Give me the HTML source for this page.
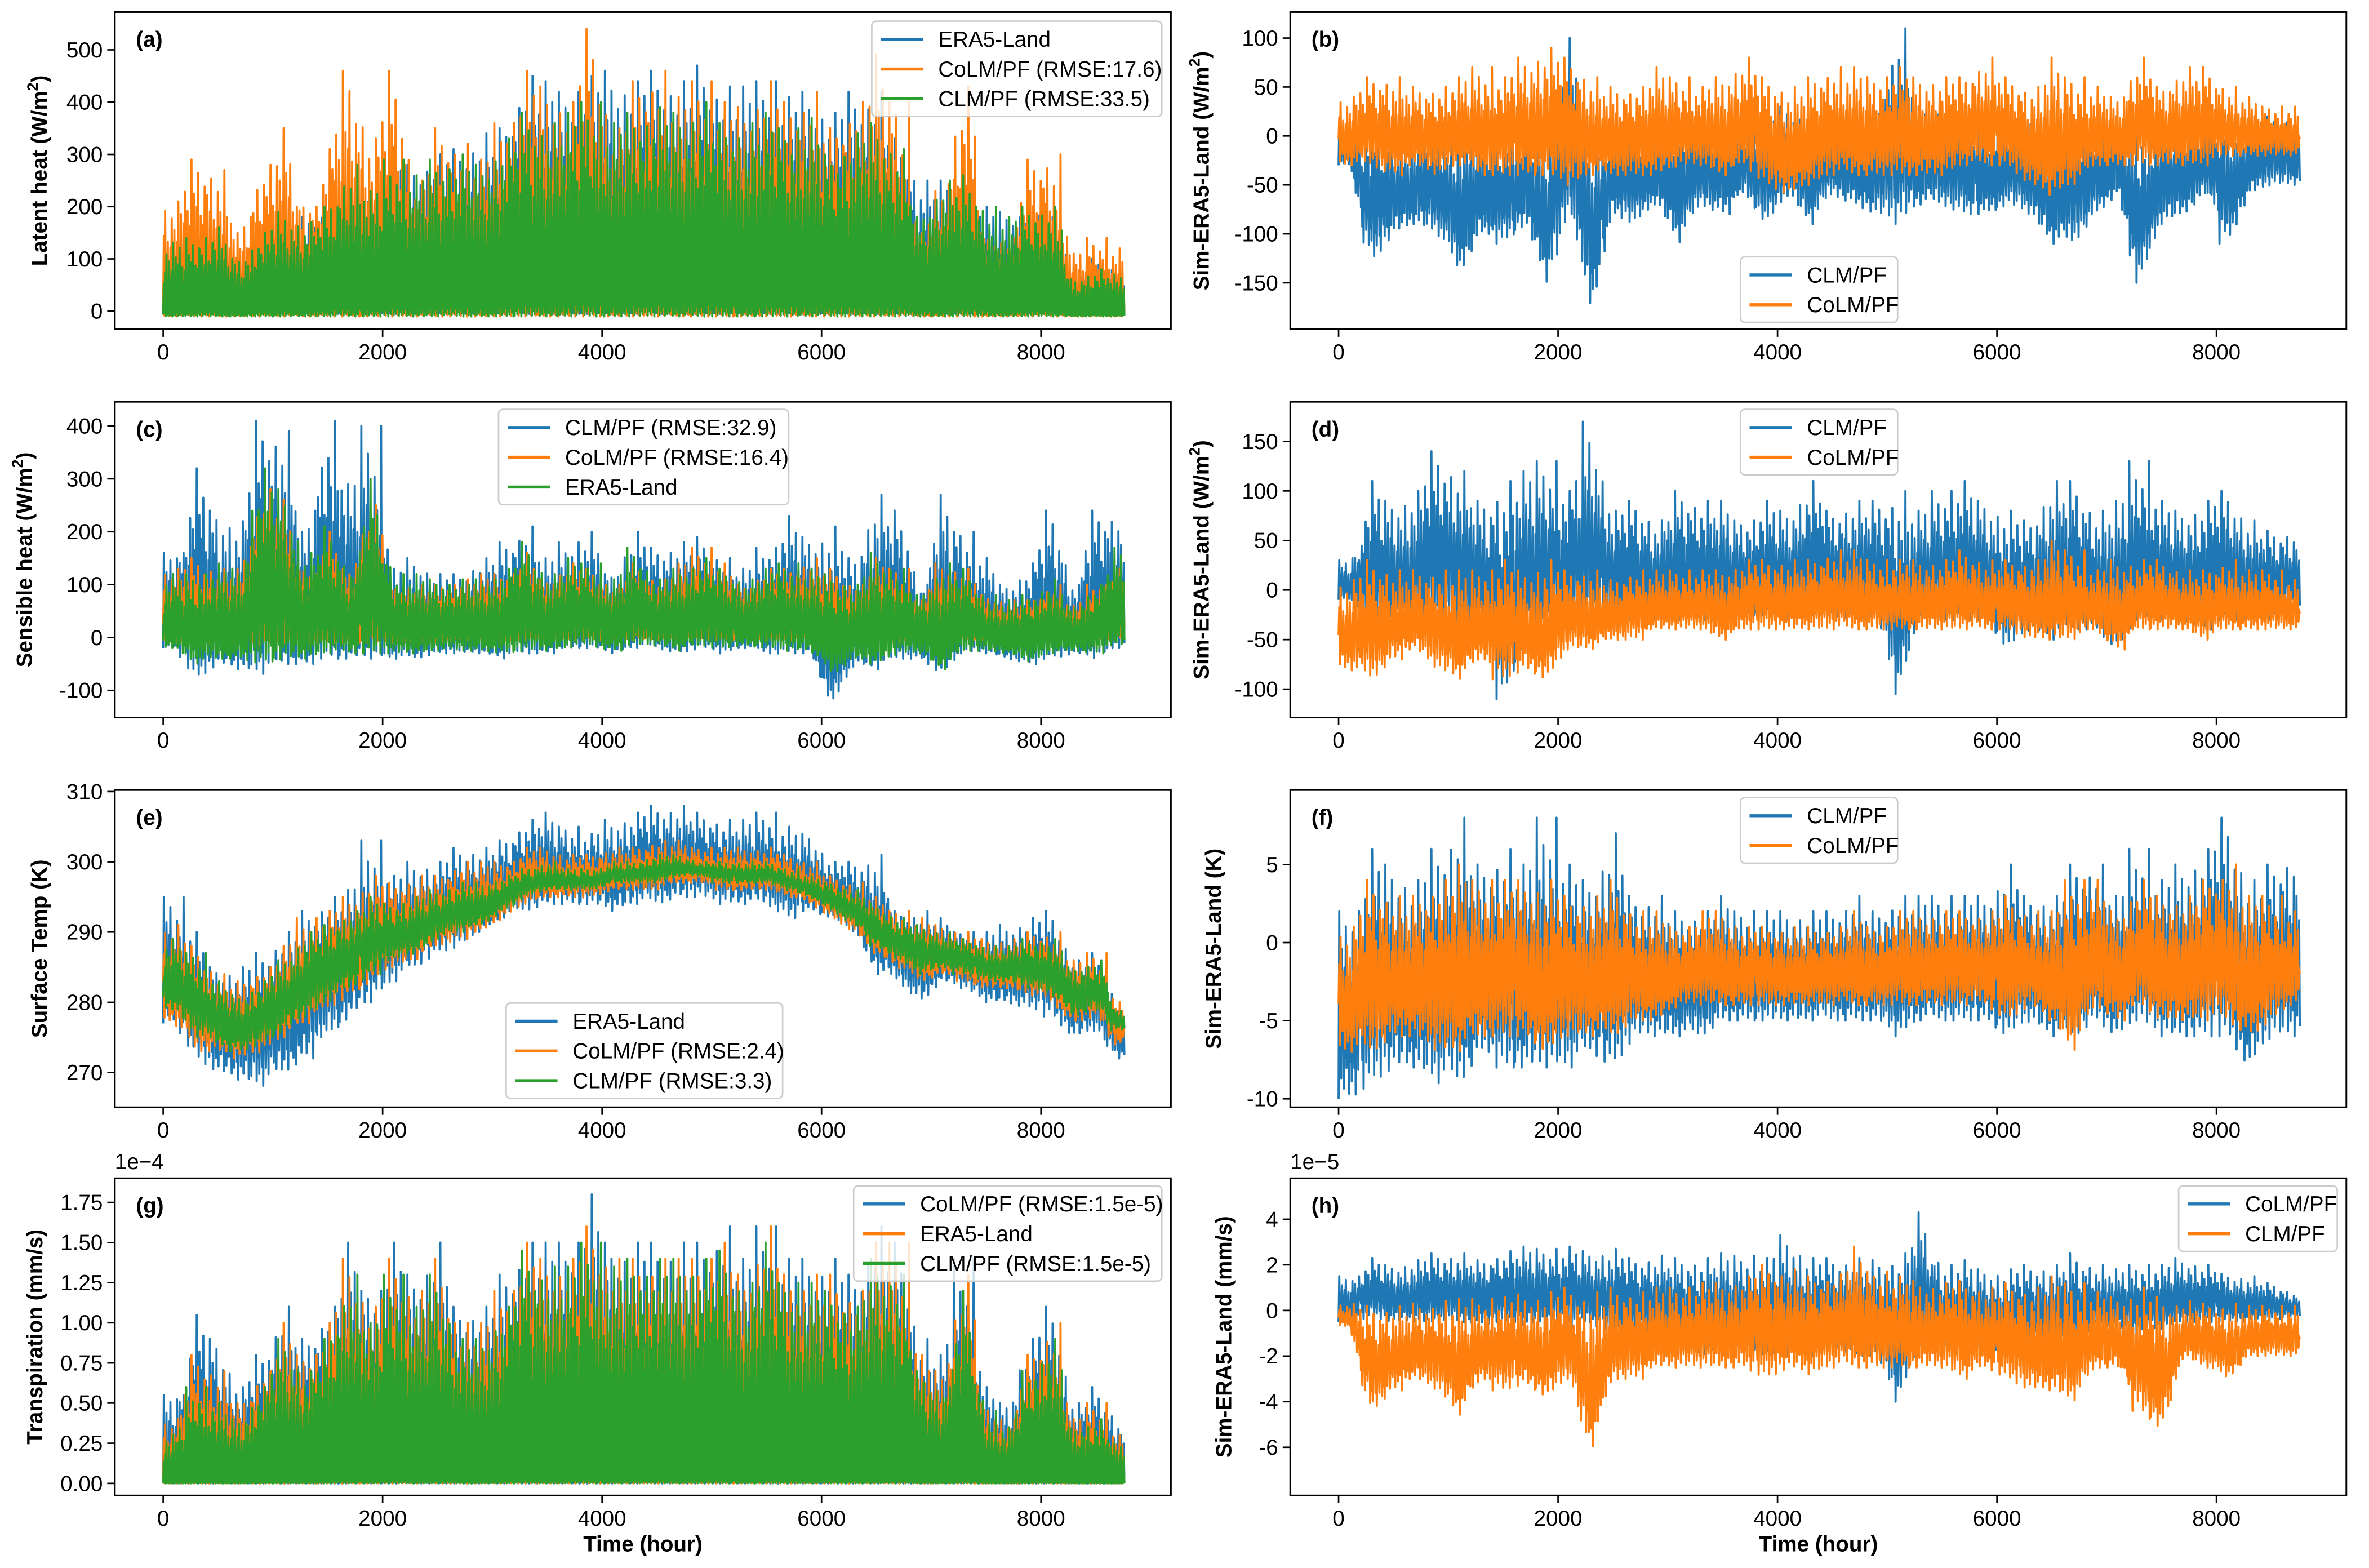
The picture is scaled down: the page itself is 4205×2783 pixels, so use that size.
<!DOCTYPE html>
<html><head><meta charset="utf-8"><style>
html,body{margin:0;padding:0;background:#fff}
svg{display:block}
text{font-family:"Liberation Sans","DejaVu Sans",sans-serif}
</style></head><body>
<svg id="fig" width="4205" height="2783" viewBox="0 0 1568 1038" preserveAspectRatio="none" xmlns="http://www.w3.org/2000/svg">
<rect width="1568" height="1038" fill="#fff"/>
</svg>
<script>
// ---- data: per-200h bin envelopes (max / min) ----
const xTicks = [0,2000,4000,6000,8000];
const binHours = 200;
const aEraMax=[100,150,100,90,130,180,180,200,220,230,300,280,300,310,340,350,450,440,420,450,460,440,460,440,470,430,430,440,410,420,380,420,420,330,250,250,250,200,190,200,200,70,100,80];
const aEraMin=[-5,-5,-5,-5,-5,-5,-5,-5,-5,-5,-5,-5,-5,-5,-5,-5,-5,-5,-5,-5,-5,-5,-5,-5,-5,-5,-5,-5,-5,-5,-5,-5,-5,-5,-5,-5,-5,-5,-5,-5,-5,-5,-5,-5];
const aColmMax=[210,290,270,150,280,350,200,310,460,330,460,250,350,320,290,360,460,430,400,540,350,440,460,410,440,400,390,440,400,420,350,400,490,400,150,230,430,150,140,290,300,110,140,120];
const aColmMin=[-10,-10,-10,-10,-10,-10,-10,-10,-10,-10,-10,-10,-10,-10,-10,-10,-10,-10,-10,-10,-10,-10,-10,-10,-10,-10,-10,-10,-10,-10,-10,-10,-10,-10,-10,-10,-10,-10,-10,-10,-10,-10,-10,-10];
const aClmMax=[130,140,160,100,150,190,170,200,280,230,290,260,290,300,280,330,380,360,380,400,360,380,390,380,400,360,360,380,350,370,300,340,360,310,180,250,260,200,180,200,200,60,80,70];
const aClmMin=[-10,-10,-10,-10,-10,-10,-10,-10,-10,-10,-10,-10,-10,-10,-10,-10,-10,-10,-10,-10,-10,-10,-10,-10,-10,-10,-10,-10,-10,-10,-10,-10,-10,-10,-10,-10,-10,-10,-10,-10,-10,-10,-10,-10];
const bClmMax=[10,10,5,5,10,10,10,10,20,10,100,20,20,20,20,30,20,20,20,20,30,20,30,20,20,110,30,30,30,20,20,20,20,20,20,20,10,20,20,20,20,20,20,20];
const bClmMin=[-30,-130,-100,-90,-100,-140,-100,-110,-90,-150,-80,-180,-80,-90,-70,-110,-70,-80,-60,-90,-60,-90,-60,-70,-80,-90,-70,-70,-80,-80,-70,-80,-110,-110,-80,-60,-150,-90,-80,-60,-110,-60,-50,-50];
const bColmMax=[40,60,60,50,50,60,70,60,80,90,80,60,50,50,70,60,50,60,80,60,50,60,70,70,60,70,60,60,60,80,60,50,80,60,50,40,80,50,70,70,50,40,30,30];
const bColmMin=[-30,-30,-40,-30,-40,-30,-40,-40,-40,-40,-50,-40,-40,-40,-40,-30,-30,-40,-30,-50,-60,-50,-40,-40,-40,-40,-40,-40,-30,-30,-30,-50,-60,-50,-30,-30,-30,-30,-30,-30,-20,-20,-20,-20];
const cClmMax=[160,320,240,220,410,390,200,410,290,400,130,150,120,120,150,180,210,150,180,200,120,200,170,180,190,150,130,170,230,190,210,150,270,240,100,270,200,150,100,140,240,100,240,240];
const cClmMin=[-20,-80,-50,-60,-70,-50,-50,-40,-40,-40,-40,-40,-30,-30,-30,-40,-30,-30,-20,-20,-30,-20,-20,-30,-20,-30,-20,-30,-30,-30,-130,-50,-60,-40,-40,-70,-30,-30,-40,-50,-40,-30,-40,-20];
const cColmMax=[130,150,130,130,280,260,120,200,130,250,100,100,100,110,120,120,160,110,140,130,100,140,110,140,170,140,100,130,130,150,130,100,150,130,70,140,130,80,70,70,100,60,100,130];
const cColmMin=[-10,-15,-10,-10,-15,-10,-10,-10,-10,-10,-10,-10,-10,-5,-5,-10,-5,-5,-5,-5,-5,-5,-5,-5,-5,-5,-5,-5,-5,-5,-10,-5,-10,-10,-5,-5,-5,-5,-5,-5,-5,-5,-5,-5];
const cEraMax=[120,120,140,130,320,280,160,210,130,300,120,120,110,110,110,130,180,120,150,140,110,170,110,130,150,130,110,130,140,130,120,100,160,130,80,140,130,80,70,80,110,60,100,170];
const cEraMin=[-20,-50,-40,-40,-50,-40,-40,-30,-30,-30,-30,-30,-25,-25,-25,-30,-25,-25,-20,-15,-25,-15,-15,-25,-15,-20,-15,-20,-25,-25,-70,-40,-50,-30,-30,-60,-25,-25,-30,-45,-30,-25,-30,-15];
const dClmMax=[30,110,90,100,140,120,90,110,120,130,100,170,80,90,70,100,90,90,70,90,80,110,80,90,90,100,80,100,110,90,80,70,110,110,80,90,130,90,80,90,100,70,60,60];
const dClmMin=[-10,-50,-40,-40,-40,-40,-40,-110,-50,-40,-40,-40,-30,-30,-30,-30,-30,-30,-25,-25,-30,-25,-25,-30,-25,-105,-25,-30,-30,-30,-60,-40,-50,-40,-40,-60,-30,-30,-30,-40,-30,-30,-30,-20];
const dColmMax=[10,30,20,20,20,20,20,30,20,30,20,20,10,20,20,20,20,20,30,30,30,30,40,40,30,30,30,30,40,30,30,30,50,40,20,30,30,30,20,20,30,20,20,10];
const dColmMin=[-80,-90,-70,-60,-80,-90,-70,-90,-80,-90,-60,-60,-50,-50,-40,-40,-40,-50,-40,-40,-40,-40,-40,-40,-40,-40,-40,-40,-40,-40,-40,-50,-50,-50,-40,-60,-40,-40,-40,-50,-40,-40,-40,-40];
const eEraMax=[295,290,285,285,287,290,293,295,296,303,298,300,300,302,302,303,306,307,305,304,306,307,308,308,307,306,306,307,305,304,300,300,301,293,293,292,290,290,291,292,293,286,287,280];
const eEraMin=[277,272,270,269,268,270,272,275,278,280,283,285,287,288,290,292,293,294,294,294,293,294,294,295,295,294,294,294,292,293,292,290,284,283,280,283,282,280,280,279,278,275,276,272];
const eColmMax=[291,288,284,283,285,288,292,293,295,298,297,298,298,300,300,300,302,302,301,301,302,302,303,303,302,302,302,302,301,300,298,297,295,293,292,291,290,289,289,290,290,286,287,280];
const eColmMin=[277,273,273,272,273,275,277,279,281,283,285,286,288,289,290,292,294,295,295,295,296,296,296,297,297,296,296,296,295,294,292,290,287,285,283,284,283,282,282,281,280,277,278,274];
const eClmMax=[289,287,283,281,283,286,290,291,293,295,294,295,296,297,297,298,299,300,299,299,300,300,301,301,300,300,300,300,299,298,297,296,294,292,291,290,289,288,288,289,289,285,286,279];
const eClmMin=[279,275,274,273,274,276,278,280,282,284,286,287,289,290,291,293,295,296,296,296,297,297,297,298,298,297,297,297,296,295,293,291,288,286,284,285,284,283,283,282,281,278,279,276];
const fClmMax=[2,6,5,4,6,8,5,6,5,8,5,4,7,3,3,2,2,3,2,2,2,2,2,3,2,3,3,3,3,3,5,3,3,5,5,3,6,4,5,6,8,4,5,6];
const fClmMin=[-10,-9,-8,-8,-9,-9,-7,-8,-8,-8,-8,-7,-8,-6,-6,-6,-6,-5,-5,-5,-5,-5,-5,-5,-5,-6,-5,-5,-5,-5,-6,-5,-6,-6,-5,-6,-5,-6,-6,-6,-6,-8,-6,-6];
const fColmMax=[1,4,3,3,4,5,4,4,4,4,3,3,4,2,2,1,2,2,1,1,1,1,1,2,1,2,2,2,2,2,3,2,2,4,4,2,4,3,3,4,5,3,3,2];
const fColmMin=[-7,-7,-6,-6,-7,-7,-6,-6,-6,-7,-6,-6,-6,-5,-5,-4,-4,-4,-4,-4,-4,-4,-4,-4,-4,-4,-4,-4,-4,-4,-5,-4,-5,-7,-4,-5,-4,-5,-5,-5,-5,-6,-5,-4];
const gColmMax=[0.55,1.05,0.9,0.6,0.8,1.1,0.9,1.1,1.5,1.2,1.5,1.3,1.5,1.1,1.1,1.3,1.5,1.5,1.5,1.8,1.5,1.5,1.5,1.5,1.5,1.6,1.4,1.6,1.4,1.4,1.4,1.3,1.6,1.5,0.9,0.8,1.4,0.6,0.5,0.9,1.1,0.5,0.6,0.4];
const gEraMax=[0.4,0.8,0.7,0.5,0.7,1.0,0.8,1.0,1.4,1.1,1.4,1.2,1.4,1.0,1.0,1.2,1.5,1.4,1.4,1.6,1.4,1.4,1.4,1.4,1.4,1.5,1.3,1.6,1.3,1.3,1.3,1.2,1.5,1.5,0.8,0.7,1.3,0.5,0.4,0.8,1.0,0.4,0.5,0.3];
const gClmMax=[0.3,0.6,0.5,0.4,0.6,0.9,0.7,0.9,1.3,1.0,1.3,1.1,1.3,0.9,0.9,1.1,1.45,1.35,1.35,1.5,1.35,1.4,1.4,1.4,1.4,1.45,1.25,1.5,1.25,1.25,1.2,1.1,1.4,1.3,0.7,0.6,1.2,0.45,0.35,0.7,0.9,0.35,0.4,0.25];
const gZero=[0,0,0,0,0,0,0,0,0,0,0,0,0,0,0,0,0,0,0,0,0,0,0,0,0,0,0,0,0,0,0,0,0,0,0,0,0,0,0,0,0,0,0,0];
const hColmMax=[1.5,2.3,2.0,2.2,2.5,2.5,2.2,2.6,2.8,2.7,2.8,2.6,2.7,2.3,2.4,2.3,2.3,2.5,2.4,2.3,3.3,2.3,2.3,2.3,2.2,2.5,4.3,2.0,2.2,1.8,1.8,2.0,2.0,2.5,2.0,1.8,2.0,2.0,2.3,2.0,1.6,1.5,1.2,0.8];
const hColmMin=[-0.5,-0.3,-0.5,-0.5,-0.6,-0.5,-0.6,-0.5,-0.7,-0.5,-0.8,-0.6,-1,-1,-1,-1.5,-2,-1.5,-1.5,-2,-2,-2,-1.5,-2,-2,-4,-1.5,-1.5,-1.5,-1.5,-2,-1.5,-1.5,-2,-1,-0.8,-1,-0.8,-0.5,-0.5,-0.5,-0.5,-0.5,-0.3];
const hClmMax=[0.3,0.2,0.2,0.3,0.4,0.5,0.5,0.6,0.7,0.8,1,0.8,1,0.8,1,1,1.2,1.2,1.5,2,1.8,1.5,1.6,2.8,1.7,1.5,1.3,1.2,1.3,1,1.2,1,1.5,1.2,0.8,0.6,1.0,0.6,0.4,0.3,0.3,0.2,0.2,0.2];
const hClmMin=[-0.7,-4.4,-3.5,-3,-3.5,-4.6,-3,-3.5,-3.2,-3.8,-3,-6.2,-3,-3,-2.5,-2.5,-2.5,-2.5,-2.5,-3,-2.5,-2.8,-2.5,-2.5,-2.5,-2.5,-2.5,-2.5,-3,-2.5,-3,-3.5,-3.5,-4,-2.5,-2.5,-4.4,-5.2,-2,-2.5,-3,-2,-2,-2];
const aTicks=[0,100,200,300,400,500];
const bTicks=[-150,-100,-50,0,50,100];
const cTicks=[-100,0,100,200,300,400];
const dTicks=[-100,-50,0,50,100,150];
const eTicks=[270,280,290,300,310];
const fTicks=[-10,-5,0,5];
const gTicks=[0,0.25,0.5,0.75,1.0,1.25,1.5,1.75];
const hTicks=[-6,-4,-2,0,2,4];

const BLUE='#1f77b4', ORANGE='#ff7f0e', GREEN='#2ca02c';
const NS='http://www.w3.org/2000/svg';
const svg=document.getElementById('fig');
function el(tag,attrs,parent){const e=document.createElementNS(NS,tag);for(const k in attrs)e.setAttribute(k,attrs[k]);(parent||svg).appendChild(e);return e;}
// rendering texture (shape of oscillation inside the envelope, not data)
const HI=[1.0,0.55,0.8,0.4,0.7,0.92,0.5,0.65,0.45,0.6,0.85,0.35,0.75,0.5,0.62];
const LO=[0.0,0.5,0.2,0.7,0.1,0.4,0.3,0.6,0.05,0.35,0.15,0.55,0.25];

const panels=[
 {id:'a',L:76,R:775,T:8,B:218,x0:108,y0:206,ppu:0.346,v0:0,ticks:aTicks,dec:0,label:'Latent heat (W/m',sup:true,lx:31,lo:0.08,
  series:[[aEraMax,aEraMin,BLUE],[aColmMax,aColmMin,ORANGE],[aClmMax,aClmMin,GREEN]],
  legend:{x:577,y:14,w:192,items:[['ERA5-Land',BLUE],['CoLM/PF (RMSE:17.6)',ORANGE],['CLM/PF (RMSE:33.5)',GREEN]]}},
 {id:'b',L:854,R:1553,T:8,B:218,x0:886,y0:90,ppu:0.648,v0:0,ticks:bTicks,dec:0,label:'Sim-ERA5-Land (W/m',sup:true,lx:800,lo:0.55,
  series:[[bClmMax,bClmMin,BLUE],[bColmMax,bColmMin,ORANGE]],
  legend:{x:1152,y:170,w:104,items:[['CLM/PF',BLUE],['CoLM/PF',ORANGE]]}},
 {id:'c',L:76,R:775,T:266,B:475,x0:108,y0:422,ppu:0.35,v0:0,ticks:cTicks,dec:0,label:'Sensible heat (W/m',sup:true,lx:21,lo:0.35,
  series:[[cClmMax,cClmMin,BLUE],[cColmMax,cColmMin,ORANGE],[cEraMax,cEraMin,GREEN]],
  legend:{x:330,y:271,w:192,items:[['CLM/PF (RMSE:32.9)',BLUE],['CoLM/PF (RMSE:16.4)',ORANGE],['ERA5-Land',GREEN]]}},
 {id:'d',L:854,R:1553,T:266,B:475,x0:886,y0:390.6,ppu:0.656,v0:0,ticks:dTicks,dec:0,label:'Sim-ERA5-Land (W/m',sup:true,lx:800,lo:0.55,
  series:[[dClmMax,dClmMin,BLUE],[dColmMax,dColmMin,ORANGE]],
  legend:{x:1152,y:271,w:104,items:[['CLM/PF',BLUE],['CoLM/PF',ORANGE]]}},
 {id:'e',L:76,R:775,T:523,B:733,x0:108,y0:710,ppu:4.65,v0:270,ticks:eTicks,dec:0,label:'Surface Temp (K)',sup:false,lx:31,lo:0.6,
  series:[[eEraMax,eEraMin,BLUE],[eColmMax,eColmMin,ORANGE],[eClmMax,eClmMin,GREEN]],
  legend:{x:335,y:664,w:183,items:[['ERA5-Land',BLUE],['CoLM/PF (RMSE:2.4)',ORANGE],['CLM/PF (RMSE:3.3)',GREEN]]}},
 {id:'f',L:854,R:1553,T:523,B:733,x0:886,y0:624,ppu:10.34,v0:0,ticks:fTicks,dec:0,label:'Sim-ERA5-Land (K)',sup:false,lx:808,lo:0.55,
  series:[[fClmMax,fClmMin,BLUE],[fColmMax,fColmMin,ORANGE]],
  legend:{x:1152,y:528,w:104,items:[['CLM/PF',BLUE],['CoLM/PF',ORANGE]]}},
 {id:'g',L:76,R:775,T:780,B:990,x0:108,y0:982,ppu:106.3,v0:0,ticks:gTicks,dec:2,label:'Transpiration (mm/s)',sup:false,lx:28,lo:0.02,offset:'1e\u22124',
  series:[[gColmMax,gZero,BLUE],[gEraMax,gZero,ORANGE],[gClmMax,gZero,GREEN]],
  legend:{x:565,y:785,w:204,items:[['CoLM/PF (RMSE:1.5e-5)',BLUE],['ERA5-Land',ORANGE],['CLM/PF (RMSE:1.5e-5)',GREEN]]},xlabel:true},
 {id:'h',L:854,R:1553,T:780,B:990,x0:886,y0:867.5,ppu:15.1,v0:0,ticks:hTicks,dec:0,label:'Sim-ERA5-Land (mm/s)',sup:false,lx:815,lo:0.55,offset:'1e\u22125',
  series:[[hColmMax,hColmMin,BLUE],[hClmMax,hClmMin,ORANGE]],
  legend:{x:1442,y:785,w:105,items:[['CoLM/PF',BLUE],['CLM/PF',ORANGE]]},xlabel:true}
];
const XPPH=0.072625;
const STEP=6;

function envAt(arr,t){
  // linear interpolation between bin centres
  const c=t/binHours-0.5;
  let i=Math.floor(c); let f=c-i;
  if(i<0){i=0;f=0;}
  if(i>=arr.length-1){i=arr.length-1;f=0;}
  const a=arr[i], b=arr[Math.min(i+1,arr.length-1)];
  // keep peaks: blend toward max of neighbours near the bin centre
  return a+(b-a)*f;
}

panels.forEach(p=>{
  const g=el('g',{});
  
  
  const xs=t=>p.x0+t*XPPH;
  const ys=v=>p.y0-(v-p.v0)*p.ppu;
  const cid='clip-'+p.id;
  const cp=el('clipPath',{id:cid},g);
  el('rect',{x:p.L,y:p.T,width:p.R-p.L,height:p.B-p.T},cp);
  const plot=el('g',{'clip-path':'url(#'+cid+')'},g);
  p.series.forEach((s,si)=>{
    const [mx,mn,col]=s;
    const pts=[];
    let k=0;
    for(let t=0;t<=8760;t+=STEP,k++){
      const i=Math.min(Math.floor(t/binHours),mx.length-1);
      // peaks near each bin's own extremes, otherwise interpolated envelope
      const hiEnv=Math.max(envAt(mx,t), mx[i]*0.85+mn[i]*0.15);
      const loEnv=Math.min(envAt(mn,t), mn[i]*0.85+mx[i]*0.15);
      let f;
      if(k%2===0) f=LO[(k/2+i*7+si*3)%LO.length]*p.lo;
      else f=HI[((k-1)/2+i*5+si*4)%HI.length];
      let v=loEnv+f*(hiEnv-loEnv);
      if(k%2===1 && HI[((k-1)/2+i*5+si*4)%HI.length]===1.0) v=mx[i];
      if(k%2===0 && LO[(k/2+i*7+si*3)%LO.length]===0 && (k/2)%3===0) v=mn[i];
      pts.push(xs(t).toFixed(2)+','+ys(v).toFixed(2));
    }
    const line=el('polyline',{points:pts.join(' '),fill:'none',stroke:col,'stroke-width':1.4,'stroke-linejoin':'round'},plot);
    
    
  });
  const frame=el('rect',{x:p.L,y:p.T,width:p.R-p.L,height:p.B-p.T,fill:'none',stroke:'#000','stroke-width':1.1},g);
  
  
  xTicks.forEach(t=>{
    const x=xs(t);
    el('line',{x1:x,x2:x,y1:p.B,y2:p.B+5,stroke:'#000','stroke-width':1},g);
    const tx=el('text',{x:x,y:p.B+20,'font-size':14.4,'text-anchor':'middle'},g);
    tx.textContent=t;
    
    
  });
  p.ticks.forEach(v=>{
    const y=ys(v);
    el('line',{x1:p.L-5,x2:p.L,y1:y,y2:y,stroke:'#000','stroke-width':1},g);
    const tx=el('text',{x:p.L-8,y:y+5,'font-size':14.4,'text-anchor':'end'},g);
    tx.textContent=v.toFixed(p.dec);
    
    
  });
  const cy=(p.T+p.B)/2;
  const yl=el('text',{x:p.lx,y:cy,'font-size':14.4,'font-weight':'bold','text-anchor':'middle',transform:'rotate(-90 '+p.lx+' '+cy+')'},g);
  
  
  if(p.sup){yl.textContent=p.label;const ts=el('tspan',{dy:-6,'font-size':10},yl);ts.textContent='2';const ts2=el('tspan',{dy:6},yl);ts2.textContent=')';}
  else yl.textContent=p.label;
  const pl=el('text',{x:p.L+14,y:p.T+23,'font-size':14.4,'font-weight':'bold'},g);
  pl.textContent='('+p.id+')';
  
  
  if(p.offset){const o=el('text',{x:p.L,y:p.T-6,'font-size':14.4},g);o.textContent=p.offset;
    
    }
  if(p.xlabel){const xl=el('text',{x:(p.L+p.R)/2,y:1027,'font-size':14.4,'font-weight':'bold','text-anchor':'middle'},g);xl.textContent='Time (hour)';
    
    }
  const lg=p.legend;
  const lgg=el('g',{},g);
  
  
  const h=lg.items.length*19.7+4;
  el('rect',{x:lg.x,y:lg.y,width:lg.w,height:h,rx:3,fill:'#fff','fill-opacity':0.8,stroke:'#ccc','stroke-width':1},lgg);
  lg.items.forEach((it,i)=>{
    const y=lg.y+12+i*19.7;
    el('line',{x1:lg.x+6,x2:lg.x+34,y1:y,y2:y,stroke:it[1],'stroke-width':2},lgg);
    const t=el('text',{x:lg.x+44,y:y+5,'font-size':14.4},lgg);
    t.textContent=it[0];
    
    
  });
});
</script>
</body></html>
